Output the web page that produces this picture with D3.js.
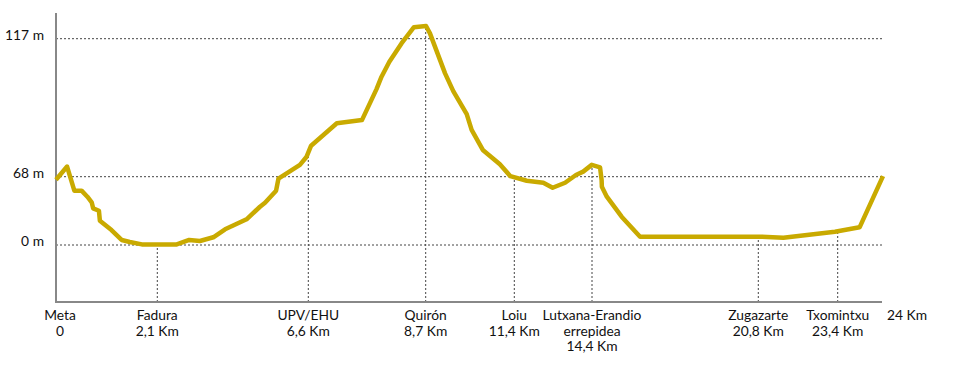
<!DOCTYPE html>
<html>
<head>
<meta charset="utf-8">
<script src="https://cdn.jsdelivr.net/npm/d3@7"></script>
<style>
    body { margin: 0; background: #fff; }
    text { font-family: Lato, "Open Sans", sans-serif; font-size: 13.8px; fill: #111; }
</style>
</head>
<body>
<div id="wrapper"></div>
<script>
// elevation profile (km, m)
let profileKm = [0, 0.23, 0.38, 0.53, 0.65, 0.74, 0.77, 0.89, 0.91, 1.15, 1.36, 1.53, 1.78,
    2.68, 3.05, 3.37, 3.77, 4.12, 4.76, 5.16, 5.31, 5.64, 5.71, 6.35, 6.55, 6.65, 7.11, 7.56,
    7.82, 7.91, 8.05, 8.27, 8.49, 8.71, 8.83, 9.29, 9.54, 9.95, 10.10, 10.44, 10.96, 11.28,
    11.88, 12.52, 12.88, 13.36, 13.78, 14.06, 14.39, 14.71, 14.77, 14.78, 14.97, 15.54, 16.25,
    20.86, 21.62, 23.31, 23.69, 24];
let profileElev = [65, 71.6, 54.1, 54.1, 48.1, 42.5, 36.5, 34.1, 24.2, 14.9, 5, 3, 0.6,
    0.6, 5, 4, 7.7, 15.6, 25.6, 38.1, 42.1, 54.1, 66, 72.2, 75.1, 79, 87, 88.1,
    99.1, 103.5, 108.8, 115.4, 121.1, 121.5, 118.9, 104.7, 98.4, 90.2, 84.6, 77.5, 72.4, 68.2,
    64, 62, 57, 62, 68.6, 69.8, 72.2, 71.3, 64.7, 58, 48.1, 28.2, 8.3,
    8.3, 7.3, 13.2, 17.6, 68.2];

// waypoints
let stopKm = [0, 2.1, 6.6, 8.7, 11.4, 14.4, 20.8, 23.4];
let stopNames = [['Meta'], ['Fadura'], ['UPV/EHU'], ['Quirón'], ['Loiu'],
    ['Lutxana-Erandio', 'errepidea'], ['Zugazarte'], ['Txomintxu']];
let stopKmLabels = ['0', '2,1 Km', '6,6 Km', '8,7 Km', '11,4 Km', '14,4 Km', '20,8 Km', '23,4 Km'];
let endKm = 24;
let endLabel = '24 Km';

// elevation ticks
let elevTicks = [0, 68, 117];
let elevLabels = ['0 m', '68 m', '117 m'];

let profile = profileKm.map(function (k, i) { return { km: k, m: profileElev[i] }; });

// the original drawing is not to scale, so both scales are piecewise
let x = d3.scaleLinear()
    .domain([0, 2.1, 6.6, 8.7, 11.4, 14.4, 20.8, 23.4, 24])
    .range([56, 157.3, 308.3, 425.7, 514.3, 592, 758.3, 837.7, 883]);
let y = d3.scaleLinear()
    .domain(elevTicks)
    .range([245, 176.7, 38.7]);

let yTop = 13, yBase = 302, xRight = 882;

function elevAt(km) {
    let i = d3.bisector(function (d) { return d.km; }).left(profile, km);
    if (i <= 0) return profile[0].m;
    if (i >= profile.length) return profile[profile.length - 1].m;
    let a = profile[i - 1], b = profile[i];
    return a.m + (b.m - a.m) * (km - a.km) / (b.km - a.km);
}

let svg = d3.select('#wrapper')
    .append('svg')
    .attr('width', 968)
    .attr('height', 366);

// horizontal dotted grid
svg.append('g')
    .selectAll('line')
    .data(elevTicks)
    .enter()
    .append('line')
    .attr('x1', x(0))
    .attr('x2', xRight)
    .attr('y1', function (d) { return y(d) })
    .attr('y2', function (d) { return y(d) })
    .style('stroke', '#444')
    .style('stroke-width', 1)
    .style('stroke-dasharray', '2,2');

svg.append('g')
    .selectAll('text')
    .data(elevTicks)
    .enter()
    .append('text')
    .attr('x', 44)
    .attr('y', function (d) { return y(d) + 1 })
    .attr('text-anchor', 'end')
    .text(function (d, i) { return elevLabels[i] });

// vertical dotted lines at waypoints
svg.append('g')
    .selectAll('line')
    .data(stopKm.slice(1))
    .enter()
    .append('line')
    .attr('x1', function (d) { return x(d) })
    .attr('x2', function (d) { return x(d) })
    .attr('y1', yBase)
    .attr('y2', function (d) { return y(elevAt(d)) })
    .style('stroke', '#444')
    .style('stroke-width', 1)
    .style('stroke-dasharray', '2,2');

// axes
svg.append('line')
    .attr('x1', x(0)).attr('x2', x(0))
    .attr('y1', yTop).attr('y2', yBase + 1)
    .style('stroke', '#888').style('stroke-width', 2);
svg.append('line')
    .attr('x1', x(0) - 1).attr('x2', xRight)
    .attr('y1', yBase).attr('y2', yBase)
    .style('stroke', '#888').style('stroke-width', 2);

// profile line
let line = d3.line()
    .x(function (d) { return x(d.km) })
    .y(function (d) { return y(d.m) });

svg.append('path')
    .datum(profile)
    .attr('d', line)
    .style('fill', 'none')
    .style('stroke', '#c9aa00')
    .style('stroke-width', 4.5)
    .style('stroke-linejoin', 'round');

// waypoint labels
let labels = svg.append('g')
    .selectAll('text')
    .data(stopKm)
    .enter()
    .append('text')
    .attr('text-anchor', 'middle')
    .attr('x', function (d, i) { return i == 0 ? x(d) + 4 : x(d) });

labels.each(function (d, i) {
    let t = d3.select(this);
    let lines = stopNames[i].concat([stopKmLabels[i]]);
    lines.forEach(function (s, j) {
        t.append('tspan')
            .attr('x', t.attr('x'))
            .attr('y', 320 + j * 15.5)
            .text(s);
    });
});

svg.append('text')
    .attr('x', x(endKm) + 4)
    .attr('y', 320)
    .text(endLabel);
</script>
</body>
</html>
